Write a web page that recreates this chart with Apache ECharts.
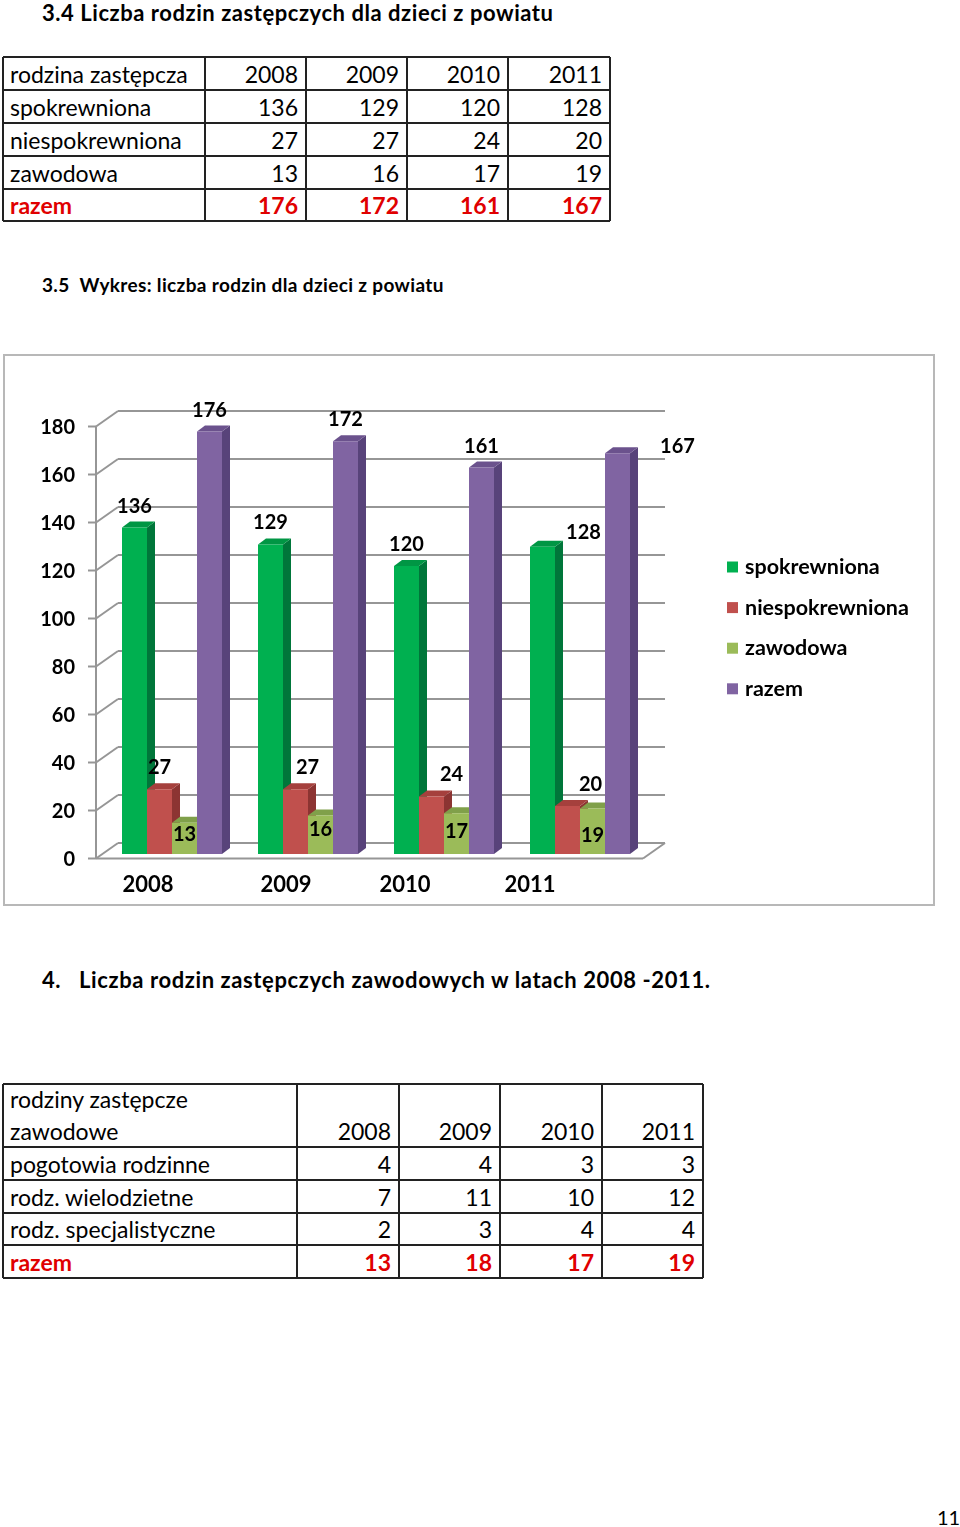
<!DOCTYPE html>
<html>
<head>
<meta charset="utf-8">
<script src="https://cdn.jsdelivr.net/npm/echarts@6/dist/echarts.min.js"></script>
<style>
  html, body { margin: 0; padding: 0; background: #fff; }
  body { width: 960px; height: 1527px; position: relative; overflow: hidden; font-family: Lato, "Open Sans", sans-serif; color: #000; }
  .t { position: absolute; white-space: nowrap; line-height: 1; }
  .cell { position: absolute; box-sizing: border-box; display: flex; align-items: center; font-size: 23px; white-space: nowrap; }
  .hl { position: absolute; background: #222; }
  #chart { position: absolute; left: 0; top: 354px; width: 960px; height: 560px; }
  #box { position: absolute; left: 3px; top: 354px; width: 928px; height: 548px; border: 2px solid #b8b8b8; }
</style>
</head>
<body>
<div class="t" id="title1" style="left:42px; top:2px; font-size:22px; letter-spacing:0.55px; font-weight:bold;">3.4 Liczba rodzin zastępczych dla dzieci z powiatu</div>
<div id="table1"></div>
<div class="t" id="title2" style="left:42px; top:275px; font-size:19px; letter-spacing:0.35px; font-weight:bold;">3.5&nbsp;&nbsp;Wykres: liczba rodzin dla dzieci z powiatu</div>
<div id="box"></div>
<div id="chart"></div>
<div class="t" id="title3" style="left:42px; top:969px; font-size:22px; letter-spacing:0.6px; font-weight:bold;">4.&nbsp;&nbsp;&nbsp;Liczba rodzin zastępczych zawodowych w latach 2008 -2011.</div>
<div id="table2"></div>
<div class="t" style="left:937px; top:1507px; font-size:20px;">11</div>
<script>
// ---------- data ----------
const categories = ['2008', '2009', '2010', '2011'];
const seriesNames = ['spokrewniona', 'niespokrewniona', 'zawodowa', 'razem'];
const spokrewniona = [136, 129, 120, 128];
const niespokrewniona = [27, 27, 24, 20];
const zawodowa = [13, 16, 17, 19];
const razem = [176, 172, 161, 167];
const yTicks = [0, 20, 40, 60, 80, 100, 120, 140, 160, 180];

const table1Header = ['rodzina zastępcza', '2008', '2009', '2010', '2011'];
const table2Header = ['rodziny zastępcze\nzawodowe', '2008', '2009', '2010', '2011'];
const table2Rows = [
  ['pogotowia rodzinne', 4, 4, 3, 3],
  ['rodz. wielodzietne', 7, 11, 10, 12],
  ['rodz. specjalistyczne', 2, 3, 4, 4],
  ['razem', 13, 18, 17, 19]
];

// ---------- tables ----------
function makeTable(el, colX, rowY, rows, lastRed) {
  const lw = 1.5;
  rowY.forEach(y => {
    const d = document.createElement('div'); d.className = 'hl';
    d.style.left = colX[0] + 'px'; d.style.top = (y - lw / 2) + 'px';
    d.style.width = (colX[colX.length - 1] - colX[0]) + 'px'; d.style.height = lw + 'px';
    el.appendChild(d);
  });
  colX.forEach(x => {
    const d = document.createElement('div'); d.className = 'hl';
    d.style.left = (x - lw / 2) + 'px'; d.style.top = rowY[0] + 'px';
    d.style.width = lw + 'px'; d.style.height = (rowY[rowY.length - 1] - rowY[0]) + 'px';
    el.appendChild(d);
  });
  rows.forEach((row, ri) => {
    row.forEach((val, ci) => {
      const c = document.createElement('div'); c.className = 'cell';
      c.style.left = colX[ci] + 'px'; c.style.top = rowY[ri] + 'px';
      c.style.width = (colX[ci + 1] - colX[ci]) + 'px';
      c.style.height = (rowY[ri + 1] - rowY[ri]) + 'px';
      c.style.padding = '0 8px 0 7px';
      c.style.justifyContent = ci === 0 ? 'flex-start' : 'flex-end';
      const txt = String(val);
      if (txt.indexOf('\n') >= 0) {
        c.style.alignItems = 'flex-end';
        c.style.whiteSpace = 'pre';
        c.style.lineHeight = '32px';
      }
      if (ri === 0 && ci > 0 && rowY[1] - rowY[0] > 40) {
        c.style.alignItems = 'flex-end';
        c.style.paddingBottom = '2px';
      }
      c.textContent = txt;
      if (lastRed && ri === rows.length - 1) { c.style.color = '#e00000'; c.style.fontWeight = 'bold'; }
      el.appendChild(c);
    });
  });
}
const t1rows = [table1Header];
[spokrewniona, niespokrewniona, zawodowa, razem].forEach((arr, i) => {
  t1rows.push([i === 3 ? 'razem' : seriesNames[i]].concat(arr));
});
makeTable(document.getElementById('table1'), [3, 205, 306, 407, 508, 610], [57, 90, 123, 156, 189, 221], t1rows, true);
makeTable(document.getElementById('table2'), [3, 297, 399, 500, 602, 703], [1084, 1147, 1180, 1213, 1245, 1278], [table2Header].concat(table2Rows), true);

// ---------- chart ----------
const seriesData = [spokrewniona, niespokrewniona, zawodowa, razem];
const palette = [
  { front: '#00b050', side: '#00763a', top: '#009644' },
  { front: '#c0504d', side: '#8c3432', top: '#a5403d' },
  { front: '#9bbb59', side: '#74903f', top: '#80a04a' },
  { front: '#8064a2', side: '#58437a', top: '#6b528d' }
];
// label nudges [dx, dy] relative to the default label spot above each bar
const labelNudge = [
  [[0, 0], [0, 0], [0, 0], [41, 7]],
  [[0, 0], [12, 0], [20, 0], [23, 0]],
  [[0, 33], [0, 35], [0, 40], [0, 49]],
  [[0, 0], [0, 0], [0, 0], [60, 15]]
];
const xLabelShift = [48, 44, 78, 100];
const FONT = 'Lato, "Open Sans", sans-serif';
const GRID = '#969696';

function wallItem(params, api) {
  const v = api.value(1);
  const y = api.coord([0, v])[1];
  const y0 = api.coord([0, 0])[1];
  const cs = params.coordSys;
  const L = cs.x, R = cs.x + cs.width;
  const fx = L - 8, bx = L + 14;
  const fy = y + 4.5, by = y - 11;
  const st = { stroke: GRID, lineWidth: 2 };
  const ch = [
    { type: 'line', shape: { x1: bx, y1: by, x2: R + 17, y2: by }, style: st },
    { type: 'line', shape: { x1: fx, y1: fy, x2: bx, y2: by }, style: st },
    { type: 'line', shape: { x1: fx - 8, y1: fy, x2: fx, y2: fy }, style: st }
  ];
  if (v === 0) {
    ch.push({ type: 'line', shape: { x1: fx, y1: fy, x2: R - 5, y2: fy }, style: st });
    ch.push({ type: 'line', shape: { x1: R - 5, y1: fy, x2: R + 17, y2: by }, style: st });
  }
  if (v === yTicks[yTicks.length - 1]) {
    ch.push({ type: 'line', shape: { x1: fx, y1: fy, x2: fx, y2: y0 + 4.5 }, style: st });
  }
  return { type: 'group', children: ch };
}

function barRenderer(s) {
  return function (params, api) {
    const ci = api.value(0), v = api.value(1);
    const p = api.coord([ci, v]);
    const yBase = api.coord([ci, 0])[1];
    const band = api.size([1, 0])[0];
    const bw = band * 25 / 136;
    const x0 = p[0] - 2 * bw + s * bw;
    const yTop = p[1];
    const dx = 8, dy = 6;
    const c = palette[s];
    const nd = labelNudge[s][ci];
    return {
      type: 'group',
      children: [
        { type: 'polygon', shape: { points: [[x0 + bw, yTop], [x0 + bw + dx, yTop - dy], [x0 + bw + dx, yBase - dy], [x0 + bw, yBase]] }, style: { fill: c.side } },
        { type: 'polygon', shape: { points: [[x0, yTop], [x0 + dx, yTop - dy], [x0 + bw + dx, yTop - dy], [x0 + bw, yTop]] }, style: { fill: c.top } },
        { type: 'rect', shape: { x: x0, y: yTop, width: bw, height: yBase - yTop }, style: { fill: c.front } },
        { type: 'text', z2: 10, style: { text: String(v), x: x0 + bw / 2 + nd[0], y: yTop - 21.5 + nd[1], align: 'center', verticalAlign: 'middle', font: 'bold 20px ' + FONT, fill: '#000' } }
      ]
    };
  };
}

const chart = echarts.init(document.getElementById('chart'));
const series = [{
  type: 'custom', name: 'walls', silent: true, z: 1,
  data: yTicks.map(v => [0, v]),
  renderItem: wallItem,
  legendHoverLink: false
}];
seriesData.forEach((arr, s) => {
  series.push({
    type: 'custom', name: seriesNames[s], z: 3,
    itemStyle: { color: palette[s].front },
    data: arr.map((v, i) => [i, v]),
    renderItem: barRenderer(s)
  });
});

const xRich = {};
xLabelShift.forEach((sh, i) => {
  xRich['c' + i] = { padding: [0, sh, 0, 0], fontSize: 22, fontWeight: 'bold', color: '#000', fontFamily: FONT };
});

chart.setOption({
  animation: false,
  textStyle: { fontFamily: FONT },
  grid: { left: 104, width: 544, top: 68, height: 432 },
  legend: {
    data: seriesNames,
    orient: 'vertical', left: 727, top: 202, padding: 0,
    icon: 'rect', itemWidth: 11, itemHeight: 11, itemGap: 18.6,
    textStyle: { fontSize: 21.5, fontWeight: 'bold', color: '#000', fontFamily: FONT, padding: [0, 0, 0, 2] }
  },
  xAxis: {
    type: 'category', data: categories,
    axisLine: { show: false }, axisTick: { show: false }, splitLine: { show: false },
    axisLabel: {
      margin: 20,
      formatter: (val, idx) => '{c' + idx + '|' + val + '}',
      rich: xRich
    }
  },
  yAxis: {
    type: 'value', min: 0, max: 180, interval: 20,
    axisLine: { show: false }, axisTick: { show: false }, splitLine: { show: false },
    axisLabel: {
      margin: 29, fontSize: 20, fontWeight: 'bold', color: '#000', fontFamily: FONT,
      formatter: v => '{n|' + v + '}',
      rich: { n: { fontSize: 20, fontWeight: 'bold', color: '#000', fontFamily: FONT, padding: [12, 0, 0, 0] } }
    }
  },
  series: series
});
</script>
</body>
</html>
